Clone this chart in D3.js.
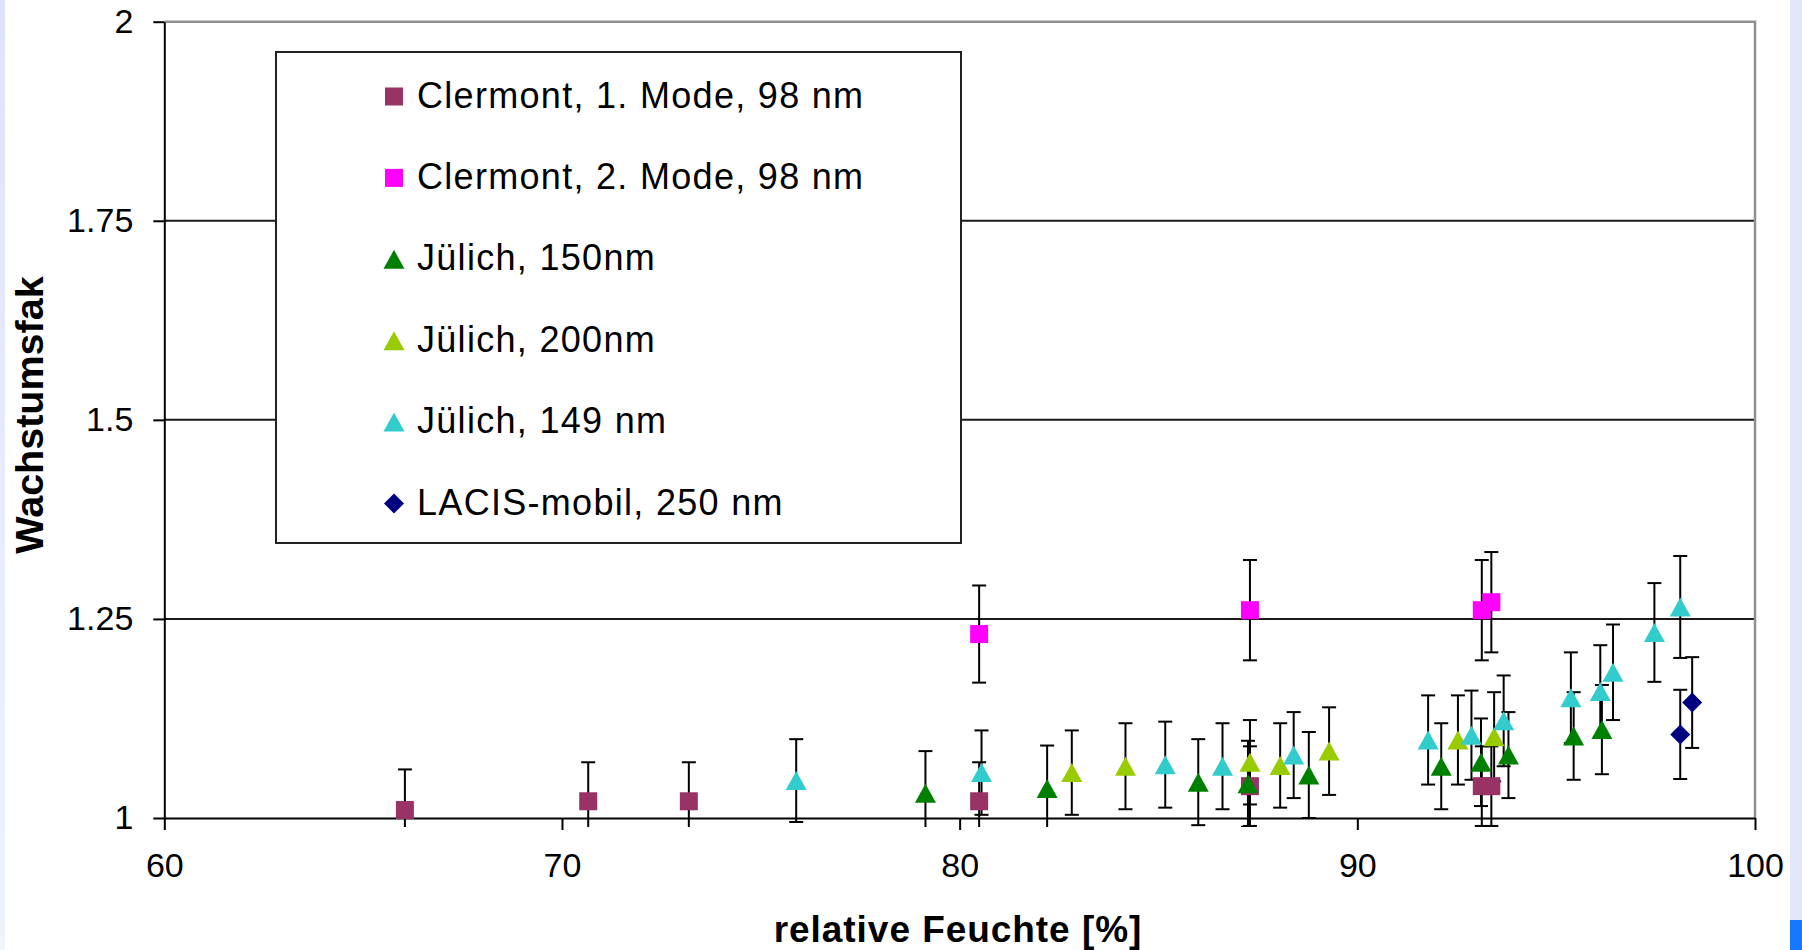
<!DOCTYPE html>
<html><head><meta charset="utf-8">
<script src="https://cdn.jsdelivr.net/npm/d3@7"></script>
<style>
body{margin:0;background:#fff;}
svg{display:block;}
text{font-family:"Liberation Sans",Arial,sans-serif;fill:#000;}
</style>
</head><body>
<svg id="c" width="1802" height="950"></svg>
<script>
// ---------- data ----------
const xTicks = [60, 70, 80, 90, 100];
const xTickLabels = ["60", "70", "80", "90", "100"];
const yTicks = [1, 1.25, 1.5, 1.75, 2];
const yTickLabels = ["1", "1.25", "1.5", "1.75", "2"];

const seriesNames = ["Clermont, 1. Mode, 98 nm", "Clermont, 2. Mode, 98 nm", "Jülich, 150nm", "Jülich, 200nm", "Jülich, 149 nm", "LACIS-mobil, 250 nm"];
const seriesColors = ["#993366", "#FF00FF", "#008000", "#99CC00", "#33CCCC", "#000080"];
const seriesShapes = ["square", "square", "triangle", "triangle", "triangle", "diamond"];

const clermont1X = [66.05, 70.66, 73.19, 80.49, 87.30, 93.13, 93.37];
const clermont1Y = [1.010, 1.021, 1.021, 1.021, 1.040, 1.040, 1.040];
const clermont1Err = [0.051, 0.049, 0.049, 0.049, 0.050, 0.050, 0.050];

const clermont2X = [80.49, 87.30, 93.13, 93.37];
const clermont2Y = [1.231, 1.261, 1.261, 1.271];
const clermont2Err = [0.061, 0.063, 0.063, 0.063];

const j150X = [79.14, 82.20, 86.00, 87.25, 88.78, 92.11, 93.11, 93.80, 95.44, 96.15];
const j150Y = [1.031, 1.037, 1.045, 1.043, 1.054, 1.065, 1.070, 1.079, 1.103, 1.111];
const j150Err = [0.053, 0.054, 0.054, 0.054, 0.054, 0.054, 0.055, 0.054, 0.055, 0.056];

const j200X = [82.82, 84.17, 87.30, 88.06, 89.29, 92.53, 93.44];
const j200Y = [1.057, 1.065, 1.070, 1.066, 1.084, 1.098, 1.102];
const j200Err = [0.053, 0.054, 0.053, 0.053, 0.055, 0.056, 0.056];

const j149X = [75.89, 80.55, 85.17, 86.61, 88.40, 91.78, 92.87, 93.68, 95.37, 96.11, 96.43, 97.47, 98.12];
const j149Y = [1.047, 1.057, 1.067, 1.065, 1.079, 1.098, 1.104, 1.122, 1.151, 1.159, 1.183, 1.233, 1.265];
const j149Err = [0.052, 0.053, 0.054, 0.054, 0.054, 0.056, 0.056, 0.057, 0.057, 0.058, 0.060, 0.062, 0.064];

const lacisX = [98.12, 98.42];
const lacisY = [1.105, 1.145];
const lacisErr = [0.056, 0.057];

const seriesX = [clermont1X, clermont2X, j150X, j200X, j149X, lacisX];
const seriesY = [clermont1Y, clermont2Y, j150Y, j200Y, j149Y, lacisY];
const seriesErr = [clermont1Err, clermont2Err, j150Err, j200Err, j149Err, lacisErr];

// ---------- chart ----------
const svg = d3.select("#c");
const x = d3.scaleLinear().domain([60, 100]).range([164.3, 1755]);
const y = d3.scaleLinear().domain([1, 2]).range([818, 21.7]);

const defs = svg.append("defs");
const lg = defs.append("linearGradient").attr("id", "lg").attr("x1", 0).attr("y1", 0).attr("x2", 0).attr("y2", 1);
lg.append("stop").attr("offset", "0%").attr("stop-color", "#dde3fa");
lg.append("stop").attr("offset", "100%").attr("stop-color", "#f0f2fc");
defs.append("clipPath").attr("id", "clip").append("rect")
  .attr("x", 0).attr("y", 0).attr("width", 1802).attr("height", 827);

// page decorations
svg.append("rect").attr("x", 0).attr("y", 0).attr("width", 5).attr("height", 950).attr("fill", "url(#lg)");
svg.append("rect").attr("x", 1790).attr("y", 0).attr("width", 12).attr("height", 920).attr("fill", "#e2e7fb");
svg.append("rect").attr("x", 1790).attr("y", 920).attr("width", 12).attr("height", 30).attr("fill", "#1478ff");

// gridlines
svg.append("g").selectAll("line")
  .data(yTicks.filter(d => d > 1 && d < 2)).join("line")
  .attr("x1", x(60)).attr("x2", x(100))
  .attr("y1", d => y(d)).attr("y2", d => y(d))
  .attr("stroke", "#1a1a1a").attr("stroke-width", 2);

// plot border top/right (gray)
svg.append("path")
  .attr("d", `M${x(60)},${y(2)}H${x(100)}V${y(1)}`)
  .attr("fill", "none").attr("stroke", "#8f8f8f").attr("stroke-width", 2.5);

// axes
const yAxis = d3.axisLeft(y).tickValues(yTicks).tickFormat((d, i) => yTickLabels[i])
  .tickSize(11).tickSizeOuter(0).tickPadding(20);
const xAxis = d3.axisBottom(x).tickValues(xTicks).tickFormat((d, i) => xTickLabels[i])
  .tickSize(12).tickSizeOuter(0).tickPadding(23);

const gy = svg.append("g").attr("transform", `translate(${x(60)},0)`).call(yAxis);
const gx = svg.append("g").attr("transform", `translate(0,${y(1)})`).call(xAxis);
[gx, gy].forEach(g => {
  g.select(".domain").attr("stroke", "#000").attr("stroke-width", 2);
  g.selectAll(".tick line").attr("stroke", "#000").attr("stroke-width", 2);
  g.selectAll(".tick text").attr("fill", "#000").style("font-size", "34px")
    .style("font-family", '"Liberation Sans", Arial, sans-serif');
});

// error bars
const eb = svg.append("g").attr("clip-path", "url(#clip)");
seriesX.forEach((xs, s) => {
  xs.forEach((xv, i) => {
    const yv = seriesY[s][i], e = seriesErr[s][i];
    const cx = x(xv), yt = y(yv + e), yb = y(yv - e);
    eb.append("line").attr("x1", cx).attr("x2", cx).attr("y1", yt).attr("y2", yb)
      .attr("stroke", "#000").attr("stroke-width", 2);
    [yt, yb].forEach(yy => {
      eb.append("line").attr("x1", cx - 7).attr("x2", cx + 7).attr("y1", yy).attr("y2", yy)
        .attr("stroke", "#000").attr("stroke-width", 2);
    });
  });
});

function markerPath(shape) {
  if (shape === "square") return "M-9,-9H9V9H-9Z";
  if (shape === "triangle") return "M0,-9.5L10.5,9.5L-10.5,9.5Z";
  return "M0,-10L10,0L0,10L-10,0Z";
}

// markers
seriesX.forEach((xs, s) => {
  svg.append("g").selectAll("path").data(xs.map((xv, i) => [xv, seriesY[s][i]])).join("path")
    .attr("transform", d => `translate(${x(d[0])},${y(d[1])})`)
    .attr("d", markerPath(seriesShapes[s]))
    .attr("fill", seriesColors[s]);
});

// legend
const leg = svg.append("g");
leg.append("rect").attr("x", 276).attr("y", 52).attr("width", 685).attr("height", 491)
  .attr("fill", "#fff").attr("stroke", "#222").attr("stroke-width", 2);
seriesNames.forEach((name, i) => {
  const by = 107.5 + i * 81.4;
  leg.append("path").attr("transform", `translate(394,${by - 11})`)
    .attr("d", markerPath(seriesShapes[i])).attr("fill", seriesColors[i]);
  leg.append("text").attr("x", 417).attr("y", by).text(name)
    .style("font-size", "36px").style("letter-spacing", "1.3px");
});

// axis titles
svg.append("text").attr("x", 958).attr("y", 942).attr("text-anchor", "middle")
  .style("font-size", "37px").style("font-weight", "bold").style("letter-spacing", "0.95px")
  .text("relative Feuchte [%]");
svg.append("text").attr("transform", "translate(43,415) rotate(-90)").attr("text-anchor", "middle")
  .style("font-size", "39.5px").style("font-weight", "bold")
  .text("Wachstumsfak");
</script>
</body></html>
